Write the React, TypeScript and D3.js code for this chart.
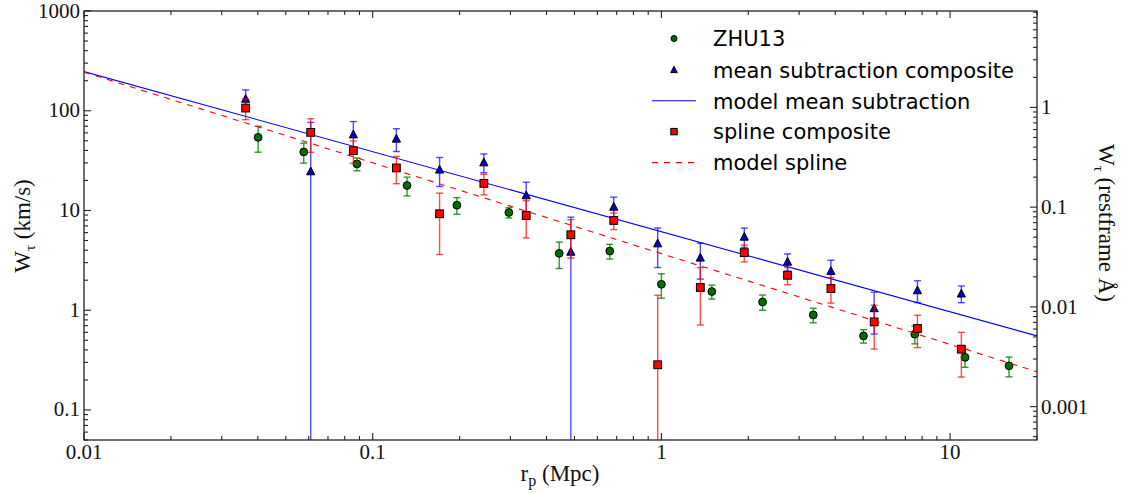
import React from 'react';
import * as d3 from 'd3';

// Canvas and plot frame
const WIDTH = 1142;
const HEIGHT = 493;
const frame = { left: 84, right: 1037, top: 11, bottom: 440 };

// Axis domains
const rDomain: [number, number] = [0.01, 20];
const wDomain: [number, number] = [0.05, 1000];
// km/s per restframe Angstrom for the secondary axis
const KMS_PER_ANGSTROM = 108;

// Tick labels
const xMajorTicks = [0.01, 0.1, 1, 10];
const xTickLabels = ['0.01', '0.1', '1', '10'];
const yMajorTicks = [0.1, 1, 10, 100, 1000];
const yTickLabels = ['0.1', '1', '10', '100', '1000'];
const yRightMajorTicks = [0.001, 0.01, 0.1, 1];
const yRightTickLabels = ['0.001', '0.01', '0.1', '1'];

// ZHU13 measurements
const zhuR = [0.0401, 0.0577, 0.0882, 0.1315, 0.1957, 0.2962, 0.4426, 0.6625, 1.0, 1.495, 2.241, 3.357, 5.012, 7.55, 11.27, 16.0];
const zhuW = [54.1, 38.6, 29.3, 17.8, 11.3, 9.55, 3.72, 3.92, 1.82, 1.54, 1.21, 0.898, 0.553, 0.575, 0.337, 0.277];
const zhuErr = [15.7, 8.75, 4.3, 3.8, 2.14, 1.14, 1.1, 0.66, 0.5, 0.245, 0.21, 0.15, 0.085, 0.115, 0.069, 0.062];

// Composite stacks share the same radial bins
const compR = [0.0363, 0.061, 0.0857, 0.1208, 0.1705, 0.2427, 0.3402, 0.4857, 0.6839, 0.971, 1.364, 1.937, 2.735, 3.866, 5.458, 7.707, 10.94];
const meanW = [131.8, 24.7, 57.9, 52.5, 25.7, 30.4, 14.2, 3.86, 10.9, 4.68, 3.37, 5.46, 3.07, 2.47, 1.047, 1.585, 1.47];
const meanErr = [30, 51.7, 20, 13.5, 8.3, 6.5, 5.0, 4.71, 2.7, 2.0, 1.32, 1.2, 0.6, 0.7, 0.47, 0.39, 0.28];
const splineW = [106.4, 60.7, 39.8, 26.7, 9.27, 18.7, 8.91, 5.71, 7.94, 0.284, 1.69, 3.78, 2.24, 1.65, 0.764, 0.656, 0.407];
const splineErr = [25, 22.4, 10, 8.15, 5.65, 4.35, 3.6, 2.38, 1.5, 1.13, 0.98, 0.73, 0.44, 0.47, 0.356, 0.234, 0.193];

// Power-law model fits (straight lines in log-log space)
const modelMeanR = [0.01, 20];
const modelMeanW = [247, 0.553];
const modelSplineR = [0.01, 20];
const modelSplineW = [244, 0.2415];

const SERIF = "'Liberation Serif', 'DejaVu Serif', serif";
const SANS = "'DejaVu Sans', 'Noto Sans', sans-serif";

const BLUE = '#0000ff';
const RED = '#ff0000';
const GREEN = '#008000';

const isDecade = (v: number) => Math.abs(Math.log10(v) - Math.round(Math.log10(v))) < 1e-9;

export default function App() {
  const x = d3.scaleLog().domain(rDomain).range([frame.left, frame.right]);
  const y = d3.scaleLog().domain(wDomain).range([frame.bottom, frame.top]);
  const yR = d3
    .scaleLog()
    .domain([wDomain[0] / KMS_PER_ANGSTROM, wDomain[1] / KMS_PER_ANGSTROM])
    .range([frame.bottom, frame.top]);

  const xTicks = x.ticks();
  const yTicks = y.ticks();
  const yRTicks = yR.ticks();

  const line = (rs: number[], ws: number[]) =>
    d3
      .line<number>()
      .x((_, i) => x(rs[i]))
      .y((_, i) => y(ws[i]))(ws) as string;

  const CAP = 3.5;
  const errorBars = (rs: number[], ws: number[], es: number[], color: string, opacity: number) =>
    ws.map((w, i) => {
      const cx = x(rs[i]);
      const hi = w + es[i];
      const lo = w - es[i];
      const yHi = y(hi);
      const yLo = lo > 0 ? y(lo) : frame.bottom + 20;
      return (
        <g key={i} stroke={color} strokeOpacity={opacity} strokeWidth={1.4}>
          <line x1={cx} x2={cx} y1={yHi} y2={yLo} />
          <line x1={cx - CAP} x2={cx + CAP} y1={yHi} y2={yHi} />
          {lo > 0 && <line x1={cx - CAP} x2={cx + CAP} y1={yLo} y2={yLo} />}
        </g>
      );
    });

  const triPath = (r: number) => `M0,${-r * 1.05}L${r},${r * 0.85}L${-r},${r * 0.85}Z`;

  const legendY = [38.5, 69.8, 100.8, 131.6, 162.6];
  const legendMarkX = 674;
  const legendTextX = 713;

  return (
    <svg
      width={WIDTH}
      height={HEIGHT}
      viewBox={`0 0 ${WIDTH} ${HEIGHT}`}
      style={{ position: 'absolute', left: 0, top: 0, display: 'block', background: '#fff' }}
    >
      <defs>
        <clipPath id="plot-area">
          <rect x={frame.left} y={frame.top} width={frame.right - frame.left} height={frame.bottom - frame.top} />
        </clipPath>
      </defs>
      <rect x={0} y={0} width={WIDTH} height={HEIGHT} fill="#fff" />

      <g clipPath="url(#plot-area)">
        {/* ZHU13 */}
        {errorBars(zhuR, zhuW, zhuErr, GREEN, 0.8)}
        {zhuW.map((w, i) => (
          <circle key={i} cx={x(zhuR[i])} cy={y(w)} r={3.9} fill="#006f00" stroke="#000" strokeWidth={1} />
        ))}

        {/* mean subtraction composite */}
        {errorBars(compR, meanW, meanErr, BLUE, 0.7)}
        {meanW.map((w, i) => (
          <path
            key={i}
            d={triPath(4.1)}
            transform={`translate(${x(compR[i])},${y(w)})`}
            fill="#0000c8"
            stroke="#000"
            strokeWidth={1}
          />
        ))}

        {/* model mean subtraction */}
        <path d={line(modelMeanR, modelMeanW)} fill="none" stroke={BLUE} strokeWidth={1.1} />

        {/* spline composite */}
        {errorBars(compR, splineW, splineErr, RED, 0.7)}
        {splineW.map((w, i) => (
          <rect
            key={i}
            x={x(compR[i]) - 3.9}
            y={y(w) - 3.9}
            width={7.8}
            height={7.8}
            fill={RED}
            stroke="#000"
            strokeWidth={1}
          />
        ))}

        {/* model spline */}
        <path
          d={line(modelSplineR, modelSplineW)}
          fill="none"
          stroke={RED}
          strokeWidth={1.1}
          strokeDasharray="6,6"
        />
      </g>

      {/* Frame */}
      <rect
        x={frame.left}
        y={frame.top}
        width={frame.right - frame.left}
        height={frame.bottom - frame.top}
        fill="none"
        stroke="#222"
        strokeWidth={1.3}
      />

      {/* x ticks, bottom and top, pointing inward */}
      <g stroke="#222" strokeWidth={1.1}>
        {xTicks.map((t, i) => {
          const len = isDecade(t) ? 7 : 4;
          const px = x(t);
          return (
            <g key={i}>
              <line x1={px} x2={px} y1={frame.bottom} y2={frame.bottom - len} />
              <line x1={px} x2={px} y1={frame.top} y2={frame.top + len} />
            </g>
          );
        })}
        {/* left ticks */}
        {yTicks.map((t, i) => {
          const len = isDecade(t) ? 7 : 4;
          const py = y(t);
          return <line key={i} x1={frame.left} x2={frame.left + len} y1={py} y2={py} />;
        })}
        {/* right (restframe) ticks */}
        {yRTicks.map((t, i) => {
          const len = isDecade(t) ? 7 : 4;
          const py = yR(t);
          return <line key={i} x1={frame.right} x2={frame.right - len} y1={py} y2={py} />;
        })}
      </g>

      {/* Tick labels */}
      <g fontFamily={SERIF} fontSize={21} fill="#111">
        {xMajorTicks.map((t, i) => (
          <text key={i} x={x(t)} y={459} textAnchor="middle">
            {xTickLabels[i]}
          </text>
        ))}
        {yMajorTicks.map((t, i) => (
          <text key={i} x={80} y={y(t) + 6.5} textAnchor="end">
            {yTickLabels[i]}
          </text>
        ))}
        {yRightMajorTicks.map((t, i) => (
          <text key={i} x={1041} y={yR(t) + 7} textAnchor="start">
            {yRightTickLabels[i]}
          </text>
        ))}
      </g>

      {/* Axis titles */}
      <g fontFamily={SERIF} fontSize={23} fill="#111">
        <text x={560} y={481} textAnchor="middle">
          r<tspan dy={5} fontSize={16}>p</tspan>
          <tspan dy={-5}> (Mpc)</tspan>
        </text>
        <text transform="translate(30,226) rotate(-90)" textAnchor="middle">
          W<tspan dy={5} fontSize={15}>τ</tspan>
          <tspan dy={-5}> (km/s)</tspan>
        </text>
        <text transform="translate(1099,223) rotate(90)" textAnchor="middle">
          W<tspan dy={5} fontSize={15}>τ</tspan>
          <tspan dy={-5}> (restframe Å)</tspan>
        </text>
      </g>

      {/* Legend */}
      <g fontFamily={SANS} fontSize={21} fill="#000">
        <circle cx={legendMarkX} cy={legendY[0]} r={3} fill="#006f00" stroke="#000" strokeWidth={1} />
        <text x={legendTextX} y={legendY[0] + 7.7}>ZHU13</text>

        <path
          d={triPath(3.3)}
          transform={`translate(${legendMarkX},${legendY[1]})`}
          fill="#0000c8"
          stroke="#000"
          strokeWidth={1}
        />
        <text x={legendTextX} y={legendY[1] + 7.7}>mean subtraction composite</text>

        <line x1={652} x2={696} y1={legendY[2]} y2={legendY[2]} stroke={BLUE} strokeWidth={1.1} />
        <text x={legendTextX} y={legendY[2] + 7.7}>model mean subtraction</text>

        <rect
          x={legendMarkX - 3.2}
          y={legendY[3] - 3.2}
          width={6.4}
          height={6.4}
          fill={RED}
          stroke="#000"
          strokeWidth={1}
        />
        <text x={legendTextX} y={legendY[3] + 7.7}>spline composite</text>

        <line
          x1={652}
          x2={696}
          y1={legendY[4]}
          y2={legendY[4]}
          stroke={RED}
          strokeWidth={1.1}
          strokeDasharray="6,6"
        />
        <text x={legendTextX} y={legendY[4] + 7.7}>model spline</text>
      </g>
    </svg>
  );
}
